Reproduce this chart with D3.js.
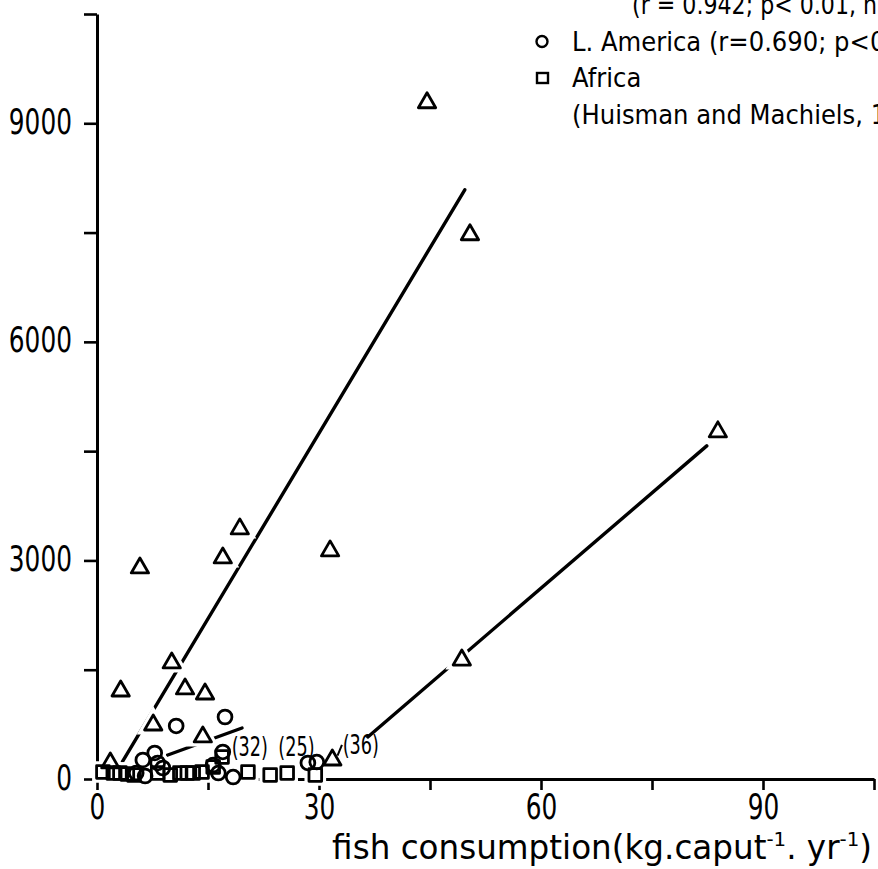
<!DOCTYPE html>
<html>
<head>
<meta charset="utf-8">
<script src="https://cdn.jsdelivr.net/npm/d3@7"></script>
<style>
  html, body { margin: 0; padding: 0; background: #fff; }
  svg { display: block; }
  text { font-family: "DejaVu Sans", sans-serif; fill: #000; }
</style>
</head>
<body>
<script>
// ---------- data ----------
// Asia (triangles): fish consumption (kg/caput/yr) vs y value
const asiaX = [44.6, 50.4, 83.9, 49.3, 31.5, 19.3, 17.0, 5.8, 10.1, 3.2, 11.9, 14.6, 7.6, 14.3, 31.8, 1.8];
const asiaY = [9282, 7470, 4765, 1633, 3131, 3433, 3034, 2897, 1593, 1208, 1236, 1167, 741, 577, 261, 220];
// Latin America (circles)
const laX = [10.7, 17.3, 7.8, 6.2, 8.2, 17.0, 15.7, 16.4, 18.4, 28.5, 29.7, 5.3, 6.5, 8.9];
const laY = [728, 851, 357, 261, 220, 371, 192, 82, 27, 220, 233, 82, 41, 151];
// Africa (squares)
const afX = [0.8, 2.2, 3.1, 4.1, 5.0, 8.2, 9.9, 11.2, 12.2, 13.0, 14.2, 15.7, 16.9, 20.4, 23.4, 25.7, 29.5];
const afY = [96, 82, 82, 69, 55, 82, 55, 82, 82, 82, 96, 165, 302, 96, 55, 82, 55];
// regression lines (end points)
const asiaFit1X = [3.4, 49.7], asiaFit1Y = [233, 8087];
const asiaFit2X = [36.6, 82.4], asiaFit2Y = [577, 4572];
const laFitX = [9.2, 19.6], laFitY = [316, 700];
// annotations
const annText = ["(32)", "(25)", "(36)"];
const annX = [18.2, 24.5, 33.2];
const annY = [440, 440, 467];
// axes
const xTicks = [0, 15, 30, 45, 60, 75, 90, 105];
const xTickLabels = ["0", "30", "60", "90"];
const yTicks = [0, 1500, 3000, 4500, 6000, 7500, 9000, 10500];
const yTickLabels = ["0", "3000", "6000", "9000"];
const xTitle = ["fish consumption(kg.caput", "-1", ". yr", "-1", ")"];
// legend
const legendLines = [
  {sym: null, text: "(r = 0.942; p< 0.01, n = 16)"},
  {sym: "circle", text: "L. America (r=0.690; p<0.01, n = 14)"},
  {sym: "square", text: "Africa"},
  {sym: null, text: "(Huisman and Machiels, 1986)"}
];

// ---------- drawing ----------
const W = 878, H = 869;
const svg = d3.select("body").append("svg").attr("width", W).attr("height", H);
svg.append("rect").attr("width", W).attr("height", H).attr("fill", "#fff");

const x = d3.scaleLinear().domain([0, 105]).range([97, 874]);
const y = d3.scaleLinear().domain([0, 10500]).range([779, 14]);

// axes
const yAxis = d3.axisLeft(y).tickValues(yTicks).tickSize(13).tickSizeOuter(0)
  .tickFormat(d => yTickLabels.includes(String(d)) ? String(d) : "");
const gy = svg.append("g").attr("transform", `translate(${x(0)},0)`).call(yAxis);
const xAxis = d3.axisBottom(x).tickValues(xTicks).tickSize(11).tickSizeOuter(0)
  .tickFormat(d => xTickLabels.includes(String(d)) ? String(d) : "");
const gx = svg.append("g").attr("transform", `translate(0,${y(0)})`).call(xAxis);

[gx, gy].forEach(g => {
  g.select(".domain").attr("stroke", "#000").attr("stroke-width", 3);
  g.selectAll(".tick line").attr("stroke", "#000").attr("stroke-width", 2.6);
  g.selectAll(".tick text").attr("font-family", "DejaVu Sans").attr("font-size", 36).attr("fill", "#000");
});
const sxTick = 0.69;
gy.selectAll(".tick text").attr("x", -25 / sxTick).attr("dy", "0.28em")
  .attr("transform", `scale(${sxTick},1)`);
gx.selectAll(".tick text").attr("y", 13).attr("dy", "0.74em")
  .attr("transform", `scale(${sxTick},1)`);

// axis title
const title = svg.append("text").attr("font-size", 33).attr("text-anchor", "end");
xTitle.forEach((t, i) => {
  const sup = i % 2 === 1;
  title.append("tspan").text(t)
    .attr("font-size", sup ? 20 : 33)
    .attr("dy", sup ? -13 : (i === 0 ? 0 : 13));
});
const tw = title.node().getComputedTextLength();
title.attr("transform", `translate(872,859) scale(${540 / tw},1)`);

// lines
const lineGen = d3.line().x(d => x(d[0])).y(d => y(d[1]));
const fits = [[asiaFit1X, asiaFit1Y], [asiaFit2X, asiaFit2Y], [laFitX, laFitY]];
svg.append("g").selectAll("path").data(fits).join("path")
  .attr("d", f => lineGen(f[0].map((v, i) => [v, f[1][i]])))
  .attr("fill", "none").attr("stroke", "#000").attr("stroke-width", 3.4).attr("stroke-linecap", "round");

// markers
const pts = [];
asiaX.forEach((v, i) => pts.push({x: v, y: asiaY[i], t: "tri"}));
laX.forEach((v, i) => pts.push({x: v, y: laY[i], t: "cir"}));
afX.forEach((v, i) => pts.push({x: v, y: afY[i], t: "sq"}));
const symFor = t => t === "tri" ? d3.symbol(d3.symbolTriangle, 130)
  : t === "cir" ? d3.symbol(d3.symbolCircle, 150) : d3.symbol(d3.symbolSquare, 160);

const halo = svg.append("g");
halo.selectAll("path").data(pts).join("path")
  .attr("transform", d => `translate(${x(d.x)},${y(d.y)})`)
  .attr("d", d => symFor(d.t)())
  .attr("fill", "#fff").attr("stroke", "#fff").attr("stroke-width", 9);
const mk = svg.append("g");
mk.selectAll("path").data(pts).join("path")
  .attr("transform", d => `translate(${x(d.x)},${y(d.y)})`)
  .attr("d", d => symFor(d.t)())
  .attr("fill", "none").attr("stroke", "#000").attr("stroke-width", 2.8).attr("stroke-linejoin", "round");

// annotations
const sxAnn = 0.68;
svg.append("g").selectAll("text").data(annText).join("text")
  .attr("transform", (d, i) => `translate(${x(annX[i])},${y(annY[i])}) scale(${sxAnn},1)`)
  .attr("dy", "0.36em").attr("font-size", 26).text(d => d);
// leader from (36) triangle
svg.append("path")
  .attr("d", lineGen([[asiaX[14] + 0.7, asiaY[14] + 60], [annX[2] - 0.1, annY[2]]]))
  .attr("stroke", "#000").attr("stroke-width", 2);

// legend
const lg = svg.append("g");
legendLines.forEach((L, i) => {
  const by = 14 + i * 36.5;
  const sx = i === 0 ? 0.82 : 0.9;
  if (L.sym === "circle") {
    lg.append("circle").attr("cx", 542).attr("cy", by - 9).attr("r", 5.5)
      .attr("fill", "none").attr("stroke", "#000").attr("stroke-width", 2.4);
  } else if (L.sym === "square") {
    lg.append("rect").attr("x", 537).attr("y", by - 14).attr("width", 11).attr("height", 10)
      .attr("fill", "none").attr("stroke", "#000").attr("stroke-width", 2.4);
  }
  lg.append("text").attr("transform", `translate(${i === 0 ? 632 : 572},${by}) scale(${sx},1)`)
    .attr("font-size", 27).text(L.text);
});
</script>
</body>
</html>
